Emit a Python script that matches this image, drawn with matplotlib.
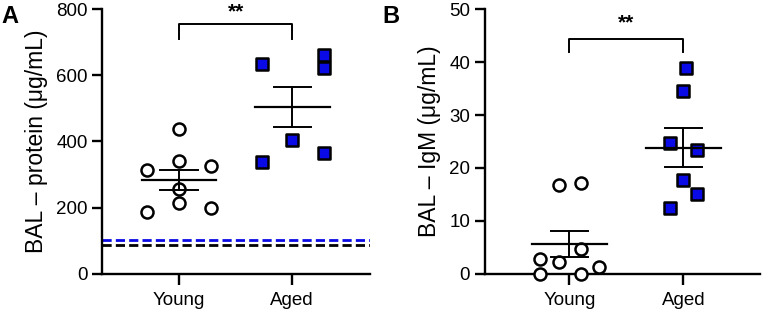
import numpy as np
import matplotlib.pyplot as plt

plt.rcParams['font.family'] = ['Liberation Sans', 'DejaVu Sans']

groups = ["Young", "Aged"]

# panel A: BAL protein (ug/mL)
protein_young = [437, 315, 341, 327, 257, 213, 186, 198]
protein_aged = [634, 661, 621, 403, 338, 366]
protein_young_jitter = [0, -0.28, 0, 0.28, 0, 0, -0.28, 0.28]
protein_aged_jitter = [-0.27, 0.28, 0.28, 0, -0.27, 0.28]
baseline_blue = 102
baseline_black = 88

# panel B: BAL IgM (ug/mL)
igm_young = [16.7, 17.1, 4.8, 2.8, 2.3, 0.0, 0.0, 1.3]
igm_aged = [38.8, 34.6, 24.8, 23.4, 17.7, 15.1, 12.4]
igm_young_jitter = [-0.09, 0.1, 0.1, -0.26, -0.09, -0.26, 0.1, 0.26]
igm_aged_jitter = [0.02, 0, -0.12, 0.12, 0, 0.12, -0.12]

BLUE = "#0a0ae6"
TICK_FS = 13.5
LABEL_FS = 16.5


def sem(v):
    v = np.asarray(v, dtype=float)
    return v.std(ddof=1) / np.sqrt(len(v))


def style_axis(ax):
    for s in ["top", "right"]:
        ax.spines[s].set_visible(False)
    for s in ["left", "bottom"]:
        ax.spines[s].set_linewidth(1.7)
    ax.tick_params(axis="both", width=1.7, length=7, labelsize=TICK_FS, pad=3.5)
    ax.tick_params(axis="x", length=8, pad=5)


def draw_group(ax, x, values, jitter, marker, face):
    xs = x + np.asarray(jitter)
    if marker == "o":
        ax.scatter(xs, values, s=75, marker="o", facecolor="white",
                   edgecolor="black", linewidth=1.8, zorder=3, clip_on=False)
    else:
        ax.scatter(xs, values, s=85, marker="s", facecolor=face,
                   edgecolor="black", linewidth=1.8, zorder=3, clip_on=False)
    m = np.mean(values)
    e = sem(values)
    ax.plot([x - 0.33, x + 0.33], [m, m], color="black", lw=1.6, zorder=4)
    ax.plot([x, x], [m - e, m + e], color="black", lw=1.4, zorder=4)
    ax.plot([x - 0.165, x + 0.165], [m + e, m + e], color="black", lw=1.4, zorder=4)
    ax.plot([x - 0.165, x + 0.165], [m - e, m - e], color="black", lw=1.4, zorder=4)


def bracket(ax, y_top, y_leg, y_text):
    ax.plot([0, 0, 1, 1], [y_leg, y_top, y_top, y_leg], color="black", lw=1.4,
            clip_on=False)
    ax.text(0.5, y_text, "**", ha="center", va="center", fontsize=15,
            fontweight="bold")


fig = plt.figure(figsize=(7.62, 3.12), dpi=100)

axA = fig.add_axes([0.134, 0.122, 0.352, 0.849])
draw_group(axA, 0, protein_young, protein_young_jitter, "o", "white")
draw_group(axA, 1, protein_aged, protein_aged_jitter, "s", BLUE)
axA.axhline(baseline_blue, color=BLUE, lw=2, ls=(0, (3.3, 1.5)))
axA.axhline(baseline_black, color="black", lw=2, ls=(0, (3.3, 1.5)))
bracket(axA, 755, 710, 790)
axA.set_xlim(-0.68, 1.69)
axA.set_ylim(0, 800)
axA.set_yticks([0, 200, 400, 600, 800])
axA.set_xticks([0, 1])
axA.set_xticklabels(groups)
axA.set_ylabel("BAL \u2013 protein (\u03bcg/mL)", fontsize=LABEL_FS, labelpad=6)
style_axis(axA)

axB = fig.add_axes([0.636, 0.122, 0.361, 0.849])
draw_group(axB, 0, igm_young, igm_young_jitter, "o", "white")
draw_group(axB, 1, igm_aged, igm_aged_jitter, "s", BLUE)
bracket(axB, 44.3, 41.8, 47.4)
axB.set_xlim(-0.745, 1.67)
axB.set_ylim(0, 50)
axB.set_yticks([0, 10, 20, 30, 40, 50])
axB.set_xticks([0, 1])
axB.set_xticklabels(groups)
axB.set_ylabel("BAL \u2013 IgM (\u03bcg/mL)", fontsize=LABEL_FS, labelpad=6)
style_axis(axB)

fig.text(0.002, 0.947, "A", fontsize=17, fontweight="bold", va="center")
fig.text(0.502, 0.947, "B", fontsize=17, fontweight="bold", va="center")

fig.savefig("out.png", dpi=100)
